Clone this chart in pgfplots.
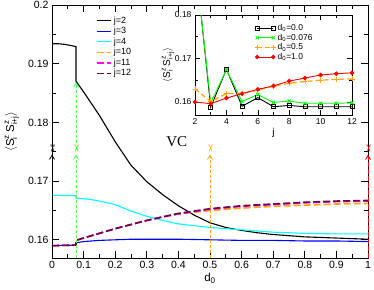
\documentclass[border=0pt]{standalone}
\usepackage{fontspec}
\setmainfont{Liberation Sans}
\newfontfamily\dejavu{DejaVu Sans}
\newfontfamily\timesf{Liberation Serif}
\usepackage{amsmath}
\usepackage{pgfplots}
\pgfplotsset{compat=1.18}
\usetikzlibrary{arrows.meta}
\definecolor{xmgreen}{RGB}{0,255,0}
\definecolor{argreen}{RGB}{90,250,90}
\definecolor{xmorange}{RGB}{255,165,0}
\definecolor{xmmaroon}{RGB}{103,7,72}
\definecolor{xmcyan}{RGB}{0,255,255}
\definecolor{xmblue}{RGB}{0,0,255}
\definecolor{xmmagenta}{RGB}{255,0,255}
\newcommand{\scis}{{\dejavu\fontsize{10}{10}\selectfont ✂}}
\begin{document}
\begin{tikzpicture}
\useasboundingbox (-52pt,-31pt) rectangle (322pt,258pt);
\begin{axis}[
 width=316pt,height=253pt,scale only axis,
 xmin=0,xmax=1,ymin=0.1569,ymax=0.2,
 clip=false,
 xtick={0,0.1,0.2,0.3,0.4,0.5,0.6,0.7,0.8,0.9,1},
 ytick={0.16,0.17,0.18,0.19,0.2},
 minor x tick num=1, minor y tick num=1,
 tick align=inside,
 major tick length=7pt, minor tick length=4pt,
 axis line style={line width=0.9pt},
 every tick/.style={black, line width=0.7pt},
 tick label style={font=\fontsize{10.5}{12}\selectfont},
 /pgf/number format/assume math mode=true,
 xlabel={d\textsubscript{0}},
 ylabel={$\langle\text{S}^{\text{z}}_{\text{i}}\,\text{S}^{\text{z}}_{\text{i+j}}\rangle$},
 label style={font=\fontsize{11.5}{13}\selectfont},
 xlabel style={at={(axis description cs:0.5,-0.079)}, anchor=center},
 ylabel style={at={(axis description cs:-0.127,0.5)}, anchor=center},
 legend style={draw=none, fill=none, at={(0.13,0.97)}, anchor=north west,
   font=\fontsize{9}{10}\selectfont, row sep=-1.5pt, cells={anchor=west}},
 legend image code/.code={\draw[#1] (0pt,0pt) -- (14pt,0pt);},
]
\addplot[black, line width=1.1pt] coordinates {
(0,0.1934)(0.02,0.1934)(0.04,0.1933)(0.06,0.1931)(0.076,0.1929)(0.0761,0.1870)
(0.1,0.1852)(0.15,0.1812)(0.2,0.1767)(0.25,0.1727)(0.3,0.1699)(0.35,0.1677)
(0.4,0.1658)(0.45,0.1642)(0.5,0.1629)(0.55,0.1621)(0.6,0.1616)(0.65,0.1612)
(0.7,0.1609)(0.8,0.1605)(0.9,0.1603)(1,0.1601)};
\addlegendentry{j=2}
\addplot[xmblue, line width=1.1pt] coordinates {
(0,0.1590)(0.076,0.1591)(0.0761,0.1595)(0.1,0.1597)(0.15,0.1599)(0.2,0.1600)
(0.25,0.1601)(0.3,0.1601)(0.4,0.1601)(0.5,0.1600)(0.6,0.1599)(0.7,0.1599)
(0.8,0.1598)(0.9,0.1598)(1,0.1597)};
\addlegendentry{j=3}
\addplot[xmcyan, line width=1.1pt] coordinates {
(0,0.1676)(0.076,0.1675)(0.0761,0.1671)(0.1,0.1670)(0.13,0.1668)(0.16,0.1665)
(0.2,0.1660)(0.25,0.1649)(0.3,0.1640)(0.35,0.1633)(0.4,0.1627)(0.45,0.1624)
(0.5,0.1621)(0.6,0.1617)(0.7,0.1613)(0.8,0.1611)(0.9,0.1610)(1,0.1610)};
\addlegendentry{j=4}
\addplot[xmorange, line width=1.6pt, dash pattern=on 7pt off 3pt] coordinates {
(0,0.1590)(0.076,0.1591)(0.0761,0.1599)(0.1,0.1603)(0.15,0.1611)(0.2,0.1619)
(0.25,0.1626)(0.3,0.1633)(0.35,0.1639)(0.4,0.1644)(0.45,0.1647)(0.5,0.1650)
(0.6,0.1654)(0.7,0.1657)(0.8,0.1659)(0.9,0.1661)(1,0.1662)};
\addlegendentry{j=10}
\addplot[xmmagenta, line width=1.6pt, dash pattern=on 7pt off 3pt] coordinates {
(0,0.1590)(0.076,0.1591)(0.0761,0.1599)(0.1,0.1603)(0.15,0.1611)(0.2,0.1619)
(0.25,0.1626)(0.3,0.1633)(0.35,0.1639)(0.4,0.1644)(0.45,0.1648)(0.5,0.1652)
(0.6,0.1657)(0.7,0.1660)(0.8,0.1663)(0.9,0.1665)(1,0.1666)};
\addlegendentry{j=11}
\addplot[xmmaroon, line width=1.6pt, dash pattern=on 7pt off 3pt] coordinates {
(0,0.1590)(0.076,0.1591)(0.0761,0.1599)(0.1,0.1603)(0.15,0.1611)(0.2,0.1619)
(0.25,0.1626)(0.3,0.1633)(0.35,0.1639)(0.4,0.1645)(0.45,0.1649)(0.5,0.1653)
(0.6,0.1658)(0.7,0.1661)(0.8,0.1664)(0.9,0.1666)(1,0.1667)};
\addlegendentry{j=12}
% arrows
\addplot[forget plot, black, line width=0.8pt, dash pattern=on 3pt off 2pt, -{Straight Barb[length=4pt,width=5pt]}]
 coordinates {(0,0.1569)(0,0.1745)} node[pos=1, yshift=6pt, rotate=-90, inner sep=0pt, text=black] {\scis};
\addplot[forget plot, argreen, line width=0.8pt, dash pattern=on 3pt off 2pt, -{Straight Barb[length=4pt,width=5pt]}]
 coordinates {(0.076,0.1569)(0.076,0.1745)} node[pos=1, yshift=6pt, rotate=-90, inner sep=0pt, text=xmgreen] {\scis};
\addplot[forget plot, argreen, line width=0.8pt, dash pattern=on 3pt off 2pt, -{Straight Barb[length=4pt,width=5pt]}]
 coordinates {(0.076,0.1765)(0.076,0.1868)};
\addplot[forget plot, xmorange, line width=0.8pt, dash pattern=on 3pt off 2pt, -{Straight Barb[length=4pt,width=5pt]}]
 coordinates {(0.5,0.1569)(0.5,0.1745)} node[pos=1, yshift=6pt, rotate=-90, inner sep=0pt, text=xmorange] {\scis};
\addplot[forget plot, red, line width=0.9pt, dash pattern=on 5pt off 2pt, -{Straight Barb[length=4pt,width=5pt]}]
 coordinates {(1,0.1569)(1,0.1745)} node[pos=1, yshift=6pt, rotate=-90, inner sep=0pt, text=red] {\scis};
\node at (axis cs:0.395,0.1768) {\timesf\fontsize{15}{15}\selectfont VC};
\end{axis}
\begin{axis}[
 at={(143pt,143pt)}, anchor=south west,
 width=157pt,height=100pt,scale only axis,
 xmin=2,xmax=12,ymin=0.157,ymax=0.18,
 xtick={2,4,6,8,10,12}, minor x tick num=1,
 ytick={0.16,0.17,0.18}, minor y tick num=1,
 tick align=inside,
 major tick length=5pt, minor tick length=3pt,
 axis line style={line width=0.8pt},
 every tick/.style={black, line width=0.6pt},
 axis background/.style={fill=white},
 tick label style={font=\fontsize{8.5}{10}\selectfont},
 /pgf/number format/assume math mode=true,
 xlabel={j},
 ylabel={$\langle\text{S}^{\text{z}}_{\text{i}}\,\text{S}^{\text{z}}_{\text{i+j}}\rangle$},
 label style={font=\fontsize{10}{12}\selectfont},
 xlabel style={at={(axis description cs:0.5,-0.18)}, anchor=center},
 ylabel style={at={(axis description cs:-0.172,0.5)}, anchor=center},
 legend style={draw=none, fill=none, at={(0.36,0.95)}, anchor=north west,
   font=\fontsize{8.5}{10}\selectfont, row sep=-2pt, cells={anchor=west}},
 legend image code/.code={\draw[#1] (0pt,0pt) -- (16pt,0pt) plot coordinates {(0pt,0pt) (16pt,0pt)};},
]
\addplot[black, line width=0.9pt, mark=square, mark size=2pt, mark options={solid, line width=0.8pt}] coordinates {
(2,0.1934)(3,0.1588)(4,0.1675)(5,0.1590)(6,0.1610)(7,0.1589)(8,0.1592)(9,0.1589)(10,0.1589)(11,0.1589)(12,0.1589)};
\addlegendentry{d\textsubscript{0}=0.0}
\addplot[xmgreen, line width=0.9pt, mark=x, mark size=2.2pt, mark options={solid}] coordinates {
(2,0.1929)(3,0.1598)(4,0.1674)(5,0.1601)(6,0.1617)(7,0.1599)(8,0.1602)(9,0.1597)(10,0.1597)(11,0.1597)(12,0.1598)};
\addlegendentry{d\textsubscript{0}=0.076}
\addplot[xmorange, line width=1.2pt, dash pattern=on 5pt off 3pt, mark=+, mark size=2.5pt, mark options={solid, line width=0.8pt}] coordinates {
(2,0.1630)(3,0.1601)(4,0.1619)(5,0.1620)(6,0.1627)(7,0.1636)(8,0.1643)(9,0.1647)(10,0.1650)(11,0.1652)(12,0.1653)};
\addlegendentry{d\textsubscript{0}=0.5}
\addplot[red, line width=0.9pt, mark=*, mark size=1.8pt, mark options={solid}] coordinates {
(2,0.1600)(3,0.1596)(4,0.1609)(5,0.1619)(6,0.1629)(7,0.1637)(8,0.1648)(9,0.1655)(10,0.1662)(11,0.1665)(12,0.1667)};
\addlegendentry{d\textsubscript{0}=1.0}
\end{axis}
\end{tikzpicture}
\end{document}
